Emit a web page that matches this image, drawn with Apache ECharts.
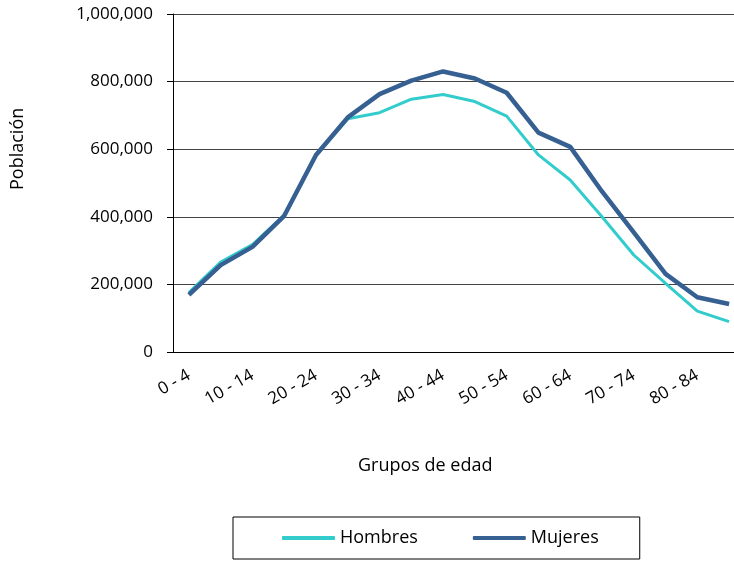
<!DOCTYPE html>
<html>
<head>
<meta charset="utf-8">
<script src="https://cdn.jsdelivr.net/npm/echarts@6/dist/echarts.min.js"></script>
<style>
  html, body { margin: 0; padding: 0; background: #fff; overflow: hidden; }
  /* el gráfico original está recortado a la derecha: el área de trazado sigue unos px más */
  #chart { width: 745px; height: 561px; }
</style>
</head>
<body>
<div id="chart"></div>
<script>
  // grupos de edad (quinquenales)
  const grupos = ['0 - 4', '5 - 9', '10 - 14', '15 - 19', '20 - 24', '25 - 29', '30 - 34', '35 - 39',
    '40 - 44', '45 - 49', '50 - 54', '55 - 59', '60 - 64', '65 - 69', '70 - 74', '75 - 79', '80 - 84', '85 +']
  const hombres = [176000, 266000, 318000, 405000, 582000, 690000, 708000, 748000, 762000,
    741000, 698000, 583000, 509000, 400000, 287000, 203000, 121000, 90000]
  const mujeres = [169000, 257000, 311000, 403000, 583000, 694000, 763000, 803000, 830000,
    809000, 767000, 649000, 607000, 475000, 354000, 231000, 162000, 142000]
  const yTicks = [0, 200000, 400000, 600000, 800000, 1000000]

  const font = '"Open Sans", sans-serif'
  const chart = echarts.init(document.getElementById('chart'))
  chart.setOption({
    animation: false,
    textStyle: { fontFamily: font, color: '#000' },
    grid: { left: 173, top: 14, right: 0, bottom: 209, containLabel: false },
    legend: {
      data: ['Hombres', 'Mujeres'],
      left: 233,
      top: 517,
      padding: [12, 41, 12, 49],
      borderColor: '#000',
      borderWidth: 1,
      icon: 'roundRect',
      itemWidth: 53,
      itemHeight: 4,
      itemGap: 55,
      textStyle: { fontFamily: font, fontSize: 18, color: '#000' },
    },
    xAxis: {
      type: 'category',
      data: grupos,
      boundaryGap: true,
      axisLine: { lineStyle: { color: '#000', width: 1 } },
      axisTick: { interval: 0, length: 6, lineStyle: { color: '#000' } },
      axisLabel: {
        interval: 1,
        rotate: 30,
        margin: 22,
        fontFamily: font,
        fontSize: 17,
        color: '#000',
      },
      splitLine: { show: false },
    },
    yAxis: {
      type: 'value',
      min: yTicks[0],
      max: yTicks[yTicks.length - 1],
      interval: 200000,
      axisLine: { show: true, lineStyle: { color: '#000', width: 1 } },
      axisTick: { show: true, inside: false, length: 6, lineStyle: { color: '#000' } },
      axisLabel: {
        margin: 20,
        fontFamily: font,
        fontSize: 17,
        color: '#000',
        formatter: (v) => v.toLocaleString('en-US'),
      },
      splitLine: { show: true, lineStyle: { color: '#444', width: 1 } },
    },
    graphic: [
      {
        type: 'text',
        left: 358,
        top: 457,
        style: { text: 'Grupos de edad', fontFamily: font, fontSize: 18, fill: '#000' },
      },
      {
        type: 'text',
        rotation: Math.PI / 2,
        x: 9,
        y: 190,
        style: { text: 'Población', fontFamily: font, fontSize: 18, fill: '#000' },
      },
    ],
    series: [
      {
        name: 'Hombres',
        type: 'line',
        data: hombres,
        symbol: 'none',
        lineStyle: { color: '#33CCCC', width: 3 },
        itemStyle: { color: '#33CCCC' },
      },
      {
        name: 'Mujeres',
        type: 'line',
        data: mujeres,
        symbol: 'none',
        z: 3,
        lineStyle: { color: '#376092', width: 4.5 },
        itemStyle: { color: '#376092' },
      },
    ],
  })
</script>
</body>
</html>
